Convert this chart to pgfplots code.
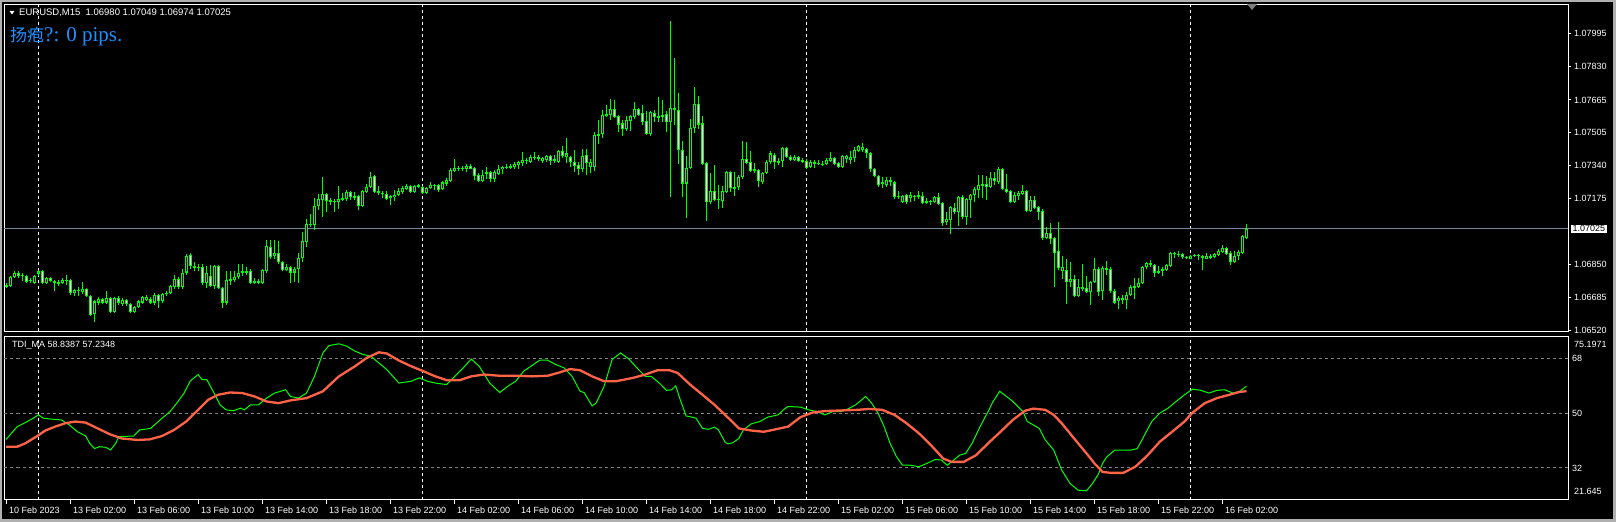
\documentclass[border=0pt]{standalone}
\usepackage{pgfplots}
\pgfplotsset{compat=1.18}
\usepackage{pgfplotstable}
\usepackage{fontspec}
\setmainfont{Liberation Sans}
\newfontfamily\cjk{Noto Sans CJK SC}
\newfontfamily\serifl{Liberation Serif}
\definecolor{mtgray}{RGB}{176,176,176}
\definecolor{pline}{RGB}{119,136,153}
\definecolor{mtblue}{RGB}{30,144,255}
\definecolor{mared}{RGB}{255,99,71}
\definecolor{dgray}{RGB}{128,128,128}
\definecolor{mtgreen}{RGB}{0,255,0}
\newcommand\mt{\fontsize{9pt}{10pt}\selectfont}

\pgfplotstableread{
i o h l c
-8 1.06738 1.06758 1.06733 1.06748
-7 1.06743 1.06793 1.06738 1.06788
-6 1.06788 1.06813 1.06783 1.06808
-5 1.06808 1.06813 1.06783 1.06793
-4 1.06798 1.06808 1.06768 1.06793
-3 1.06793 1.06798 1.06758 1.06763
-2 1.06768 1.06783 1.06758 1.06773
-1 1.06758 1.06798 1.06753 1.06793
0 1.06803 1.06818 1.06793 1.06813
1 1.06813 1.06818 1.06753 1.06758
2 1.06758 1.06788 1.06753 1.06783
3 1.06783 1.06788 1.06763 1.06768
4 1.06768 1.06773 1.06714 1.06758
5 1.06753 1.06773 1.06743 1.06763
6 1.06758 1.06783 1.06753 1.06773
7 1.06773 1.06798 1.06748 1.06768
8 1.06773 1.06778 1.06694 1.06704
9 1.06704 1.06724 1.06689 1.06719
10 1.06719 1.06738 1.06689 1.06714
11 1.06709 1.06763 1.06699 1.06728
12 1.06728 1.06733 1.06684 1.06689
13 1.06689 1.06694 1.06590 1.06595
14 1.06600 1.06669 1.06560 1.06664
15 1.06659 1.06684 1.06649 1.06674
16 1.06674 1.06679 1.06654 1.06659
17 1.06659 1.06714 1.06654 1.06679
18 1.06679 1.06684 1.06605 1.06610
19 1.06610 1.06684 1.06605 1.06679
20 1.06679 1.06689 1.06649 1.06659
21 1.06654 1.06679 1.06644 1.06669
22 1.06669 1.06674 1.06644 1.06654
23 1.06654 1.06659 1.06605 1.06610
24 1.06610 1.06644 1.06605 1.06639
25 1.06639 1.06669 1.06634 1.06664
26 1.06659 1.06689 1.06654 1.06684
27 1.06669 1.06694 1.06664 1.06684
28 1.06674 1.06684 1.06654 1.06659
29 1.06659 1.06704 1.06649 1.06694
30 1.06694 1.06699 1.06634 1.06664
31 1.06664 1.06704 1.06659 1.06699
32 1.06699 1.06714 1.06689 1.06704
33 1.06704 1.06748 1.06699 1.06743
34 1.06738 1.06798 1.06728 1.06778
35 1.06778 1.06788 1.06728 1.06738
36 1.06738 1.06823 1.06724 1.06808
37 1.06808 1.06902 1.06798 1.06892
38 1.06897 1.06907 1.06823 1.06838
39 1.06828 1.06858 1.06813 1.06838
40 1.06833 1.06848 1.06813 1.06828
41 1.06833 1.06848 1.06748 1.06758
42 1.06758 1.06838 1.06733 1.06808
43 1.06793 1.06843 1.06738 1.06743
44 1.06743 1.06843 1.06724 1.06838
45 1.06838 1.06843 1.06724 1.06733
46 1.06733 1.06738 1.06630 1.06659
47 1.06659 1.06813 1.06649 1.06773
48 1.06768 1.06813 1.06748 1.06778
49 1.06773 1.06813 1.06763 1.06788
50 1.06788 1.06848 1.06778 1.06808
51 1.06808 1.06848 1.06793 1.06813
52 1.06813 1.06833 1.06798 1.06808
53 1.06813 1.06823 1.06753 1.06758
54 1.06758 1.06783 1.06753 1.06768
55 1.06768 1.06778 1.06753 1.06758
56 1.06758 1.06823 1.06753 1.06818
57 1.06813 1.06967 1.06808 1.06942
58 1.06937 1.06967 1.06873 1.06887
59 1.06892 1.06967 1.06873 1.06907
60 1.06907 1.06962 1.06848 1.06858
61 1.06858 1.06863 1.06813 1.06818
62 1.06818 1.06848 1.06813 1.06833
63 1.06833 1.06838 1.06758 1.06808
64 1.06808 1.06833 1.06763 1.06823
65 1.06823 1.06907 1.06758 1.06882
66 1.06882 1.07007 1.06858 1.06962
67 1.06957 1.07076 1.06937 1.07051
68 1.07051 1.07101 1.07036 1.07046
69 1.07046 1.07176 1.07017 1.07136
70 1.07136 1.07200 1.07116 1.07171
71 1.07166 1.07280 1.07086 1.07200
72 1.07200 1.07205 1.07106 1.07161
73 1.07156 1.07176 1.07141 1.07166
74 1.07161 1.07171 1.07106 1.07156
75 1.07156 1.07240 1.07121 1.07171
76 1.07166 1.07205 1.07161 1.07176
77 1.07171 1.07220 1.07161 1.07210
78 1.07210 1.07215 1.07166 1.07181
79 1.07186 1.07210 1.07166 1.07176
80 1.07186 1.07191 1.07116 1.07136
81 1.07136 1.07220 1.07131 1.07215
82 1.07210 1.07250 1.07205 1.07235
83 1.07235 1.07305 1.07230 1.07280
84 1.07285 1.07290 1.07205 1.07210
85 1.07215 1.07240 1.07195 1.07205
86 1.07205 1.07215 1.07176 1.07200
87 1.07200 1.07215 1.07166 1.07171
88 1.07176 1.07195 1.07141 1.07186
89 1.07181 1.07220 1.07161 1.07195
90 1.07195 1.07230 1.07186 1.07215
91 1.07210 1.07240 1.07200 1.07230
92 1.07225 1.07250 1.07220 1.07240
93 1.07240 1.07245 1.07205 1.07210
94 1.07210 1.07245 1.07205 1.07240
95 1.07245 1.07250 1.07230 1.07235
96 1.07235 1.07240 1.07200 1.07205
97 1.07205 1.07235 1.07200 1.07230
98 1.07230 1.07255 1.07225 1.07245
99 1.07245 1.07250 1.07220 1.07240
100 1.07245 1.07250 1.07210 1.07220
101 1.07225 1.07260 1.07220 1.07255
102 1.07250 1.07275 1.07240 1.07265
103 1.07260 1.07329 1.07255 1.07315
104 1.07310 1.07374 1.07305 1.07329
105 1.07320 1.07339 1.07310 1.07329
106 1.07329 1.07339 1.07310 1.07324
107 1.07324 1.07349 1.07305 1.07339
108 1.07339 1.07349 1.07320 1.07324
109 1.07329 1.07334 1.07265 1.07285
110 1.07290 1.07300 1.07255 1.07260
111 1.07260 1.07315 1.07255 1.07290
112 1.07295 1.07334 1.07270 1.07305
113 1.07305 1.07310 1.07255 1.07270
114 1.07270 1.07315 1.07255 1.07305
115 1.07295 1.07344 1.07290 1.07324
116 1.07320 1.07339 1.07295 1.07334
117 1.07329 1.07349 1.07324 1.07334
118 1.07329 1.07349 1.07324 1.07339
119 1.07334 1.07359 1.07324 1.07349
120 1.07344 1.07364 1.07324 1.07359
121 1.07354 1.07404 1.07339 1.07369
122 1.07364 1.07379 1.07349 1.07369
123 1.07359 1.07394 1.07354 1.07384
124 1.07384 1.07404 1.07369 1.07379
125 1.07384 1.07394 1.07364 1.07374
126 1.07364 1.07384 1.07354 1.07379
127 1.07369 1.07394 1.07359 1.07389
128 1.07389 1.07394 1.07344 1.07364
129 1.07364 1.07394 1.07354 1.07374
130 1.07359 1.07414 1.07354 1.07409
131 1.07409 1.07434 1.07379 1.07389
132 1.07384 1.07474 1.07354 1.07399
133 1.07384 1.07389 1.07334 1.07359
134 1.07359 1.07414 1.07305 1.07339
135 1.07344 1.07359 1.07290 1.07324
136 1.07320 1.07419 1.07305 1.07389
137 1.07394 1.07419 1.07290 1.07354
138 1.07334 1.07374 1.07300 1.07359
139 1.07334 1.07508 1.07310 1.07493
140 1.07488 1.07563 1.07444 1.07498
141 1.07498 1.07613 1.07478 1.07588
142 1.07583 1.07642 1.07578 1.07593
143 1.07588 1.07672 1.07563 1.07618
144 1.07618 1.07667 1.07573 1.07578
145 1.07583 1.07588 1.07508 1.07543
146 1.07548 1.07563 1.07488 1.07523
147 1.07523 1.07583 1.07513 1.07563
148 1.07558 1.07588 1.07513 1.07583
149 1.07578 1.07657 1.07568 1.07618
150 1.07618 1.07627 1.07583 1.07588
151 1.07598 1.07642 1.07543 1.07553
152 1.07558 1.07608 1.07493 1.07498
153 1.07498 1.07608 1.07488 1.07603
154 1.07598 1.07613 1.07553 1.07578
155 1.07583 1.07682 1.07553 1.07573
156 1.07578 1.07667 1.07553 1.07588
157 1.07593 1.07608 1.07508 1.07553
158 1.07553 1.08055 1.07181 1.07623
159 1.07623 1.07871 1.07543 1.07613
160 1.07613 1.07697 1.07349 1.07414
161 1.07414 1.07459 1.07181 1.07250
162 1.07250 1.07389 1.07081 1.07329
163 1.07329 1.07568 1.07320 1.07528
164 1.07528 1.07727 1.07503 1.07647
165 1.07647 1.07687 1.07523 1.07543
166 1.07548 1.07583 1.07344 1.07349
167 1.07354 1.07359 1.07066 1.07156
168 1.07156 1.07300 1.07146 1.07215
169 1.07215 1.07344 1.07161 1.07166
170 1.07166 1.07245 1.07121 1.07171
171 1.07161 1.07240 1.07126 1.07215
172 1.07210 1.07310 1.07205 1.07305
173 1.07305 1.07310 1.07210 1.07230
174 1.07225 1.07305 1.07190 1.07235
175 1.07235 1.07290 1.07220 1.07280
176 1.07280 1.07459 1.07270 1.07374
177 1.07374 1.07454 1.07349 1.07354
178 1.07359 1.07409 1.07305 1.07310
179 1.07310 1.07354 1.07300 1.07320
180 1.07315 1.07324 1.07235 1.07260
181 1.07255 1.07305 1.07250 1.07300
182 1.07300 1.07369 1.07295 1.07359
183 1.07359 1.07409 1.07349 1.07399
184 1.07394 1.07399 1.07324 1.07359
185 1.07354 1.07379 1.07344 1.07364
186 1.07364 1.07429 1.07334 1.07424
187 1.07424 1.07429 1.07379 1.07384
188 1.07384 1.07394 1.07364 1.07369
189 1.07369 1.07394 1.07364 1.07384
190 1.07384 1.07389 1.07359 1.07364
191 1.07369 1.07379 1.07354 1.07359
192 1.07364 1.07374 1.07320 1.07329
193 1.07334 1.07369 1.07329 1.07359
194 1.07349 1.07369 1.07329 1.07359
195 1.07354 1.07369 1.07344 1.07349
196 1.07349 1.07364 1.07339 1.07344
197 1.07349 1.07379 1.07344 1.07369
198 1.07364 1.07404 1.07359 1.07379
199 1.07379 1.07384 1.07344 1.07349
200 1.07354 1.07359 1.07329 1.07334
201 1.07334 1.07394 1.07329 1.07389
202 1.07374 1.07394 1.07354 1.07389
203 1.07369 1.07409 1.07349 1.07384
204 1.07379 1.07429 1.07359 1.07414
205 1.07409 1.07439 1.07404 1.07434
206 1.07414 1.07449 1.07404 1.07429
207 1.07419 1.07424 1.07379 1.07399
208 1.07399 1.07404 1.07305 1.07320
209 1.07324 1.07329 1.07280 1.07285
210 1.07285 1.07290 1.07235 1.07245
211 1.07250 1.07280 1.07230 1.07255
212 1.07245 1.07280 1.07235 1.07265
213 1.07255 1.07280 1.07240 1.07265
214 1.07255 1.07260 1.07171 1.07181
215 1.07181 1.07215 1.07171 1.07186
216 1.07156 1.07195 1.07151 1.07186
217 1.07195 1.07200 1.07146 1.07156
218 1.07176 1.07210 1.07156 1.07195
219 1.07186 1.07195 1.07161 1.07181
220 1.07181 1.07215 1.07171 1.07191
221 1.07186 1.07210 1.07146 1.07151
222 1.07151 1.07176 1.07146 1.07161
223 1.07161 1.07166 1.07141 1.07156
224 1.07156 1.07186 1.07151 1.07181
225 1.07181 1.07205 1.07141 1.07146
226 1.07151 1.07156 1.07041 1.07056
227 1.07061 1.07106 1.07046 1.07076
228 1.07071 1.07136 1.06997 1.07131
229 1.07126 1.07151 1.07101 1.07106
230 1.07106 1.07186 1.07041 1.07181
231 1.07181 1.07191 1.07076 1.07086
232 1.07086 1.07176 1.07046 1.07171
233 1.07166 1.07200 1.07081 1.07195
234 1.07195 1.07235 1.07156 1.07225
235 1.07220 1.07290 1.07176 1.07245
236 1.07240 1.07290 1.07176 1.07250
237 1.07250 1.07285 1.07166 1.07235
238 1.07235 1.07305 1.07230 1.07275
239 1.07275 1.07305 1.07245 1.07260
240 1.07255 1.07334 1.07250 1.07324
241 1.07324 1.07329 1.07220 1.07225
242 1.07225 1.07295 1.07205 1.07210
243 1.07215 1.07220 1.07151 1.07156
244 1.07156 1.07210 1.07151 1.07191
245 1.07186 1.07215 1.07166 1.07205
246 1.07200 1.07245 1.07195 1.07215
247 1.07215 1.07220 1.07106 1.07111
248 1.07111 1.07186 1.07106 1.07166
249 1.07166 1.07186 1.07121 1.07126
250 1.07131 1.07136 1.07071 1.07106
251 1.07111 1.07121 1.06967 1.06977
252 1.06977 1.07032 1.06972 1.07002
253 1.07002 1.07056 1.06952 1.06972
254 1.06977 1.06982 1.06738 1.06907
255 1.06917 1.07061 1.06818 1.06828
256 1.06813 1.06892 1.06778 1.06833
257 1.06818 1.06873 1.06654 1.06763
258 1.06763 1.06858 1.06738 1.06778
259 1.06778 1.06798 1.06684 1.06689
260 1.06689 1.06778 1.06684 1.06738
261 1.06728 1.06848 1.06714 1.06738
262 1.06733 1.06793 1.06704 1.06709
263 1.06709 1.06768 1.06649 1.06763
264 1.06763 1.06882 1.06758 1.06823
265 1.06823 1.06833 1.06689 1.06709
266 1.06714 1.06838 1.06669 1.06828
267 1.06828 1.06863 1.06798 1.06818
268 1.06823 1.06833 1.06704 1.06714
269 1.06714 1.06728 1.06654 1.06659
270 1.06664 1.06689 1.06625 1.06679
271 1.06669 1.06694 1.06654 1.06679
272 1.06669 1.06709 1.06625 1.06694
273 1.06694 1.06748 1.06689 1.06738
274 1.06733 1.06783 1.06674 1.06743
275 1.06738 1.06783 1.06733 1.06758
276 1.06758 1.06838 1.06753 1.06833
277 1.06833 1.06858 1.06823 1.06853
278 1.06853 1.06868 1.06833 1.06843
279 1.06843 1.06848 1.06788 1.06808
280 1.06808 1.06838 1.06803 1.06813
281 1.06813 1.06833 1.06793 1.06823
282 1.06818 1.06848 1.06813 1.06843
283 1.06838 1.06912 1.06833 1.06907
284 1.06907 1.06912 1.06882 1.06902
285 1.06902 1.06917 1.06887 1.06897
286 1.06902 1.06907 1.06873 1.06887
287 1.06887 1.06892 1.06877 1.06882
288 1.06877 1.06897 1.06873 1.06892
289 1.06892 1.06902 1.06887 1.06897
290 1.06897 1.06902 1.06868 1.06892
291 1.06892 1.06897 1.06818 1.06882
292 1.06877 1.06907 1.06873 1.06892
293 1.06882 1.06902 1.06873 1.06892
294 1.06887 1.06907 1.06882 1.06902
295 1.06897 1.06927 1.06892 1.06917
296 1.06912 1.06947 1.06907 1.06932
297 1.06932 1.06937 1.06897 1.06902
298 1.06907 1.06917 1.06843 1.06858
299 1.06858 1.06917 1.06853 1.06892
300 1.06892 1.06922 1.06868 1.06912
301 1.06907 1.06992 1.06902 1.06987
302 1.06980 1.07049 1.06974 1.07025
}\candles

% price axis is drawn in points: (price - 1) x 100000
\pgfplotsset{candle/.style 2 args={draw=none, mark=none, mark size=0pt, error bars/.cd, y dir=plus, y explicit, error mark=none, error bar style={draw=#1, line width=#2, solid}}}

\begin{document}
\begin{tikzpicture}
\fill[mtgray] (0pt,0pt) rectangle (1616pt,522pt);
\fill[black] (2pt,3pt) rectangle (1613pt,519.5pt);

\begin{axis}[
  at={(4.5pt,190.5pt)}, anchor=south west, scale only axis,
  width=1564pt, height=327pt,
  xmin=-8.5, xmax=382.5, ymin=6515, ymax=8139,
  axis line style={white, line width=1pt},
  xtick=\empty,
  ytick={6520,6685,6850,7175,7340,7505,7665,7830,7995},
  yticklabels={1.06520,1.06685,1.06850,1.07175,1.07340,1.07505,1.07665,1.07830,1.07995},
  ytick pos=right, yticklabel pos=right, ytick align=outside, major tick length=3pt,
  ytick style={white, line width=1pt},
  yticklabel style={font=\mt, text=white, anchor=west, xshift=-1pt},
  clip mode=individual,
]
\draw[white, line width=1pt, dash pattern=on 3pt off 3pt] (axis cs:0,6515) -- (axis cs:0,8139);
\draw[white, line width=1pt, dash pattern=on 3pt off 3pt] (axis cs:96,6515) -- (axis cs:96,8139);
\draw[white, line width=1pt, dash pattern=on 3pt off 3pt] (axis cs:192,6515) -- (axis cs:192,8139);
\draw[white, line width=1pt, dash pattern=on 3pt off 3pt] (axis cs:288,6515) -- (axis cs:288,8139);
\draw[pline, line width=1pt] (axis cs:-8.5,7025) -- (axis cs:382.5,7025);
% wicks
\addplot[candle={mtgreen}{1pt}]
  table[x=i, y expr={(\thisrow{l}-1)*100000}, y error plus expr={(\thisrow{h}-\thisrow{l})*100000}] {\candles};
% bodies
\addplot[candle={mtgreen}{3pt}]
  table[x=i, y expr={(min(\thisrow{o},\thisrow{c})-1)*100000}, y error plus expr={max(abs(\thisrow{c}-\thisrow{o})*100000,5)}] {\candles};
% bear interiors (white)
\addplot[candle={white}{1pt}]
  table[x=i, y expr={(\thisrow{c}-1)*100000+5}, y error plus expr={max((\thisrow{o}-\thisrow{c})*100000-10,0)}] {\candles};
% bull interiors (black)
\addplot[candle={black}{1pt}]
  table[x=i, y expr={(\thisrow{o}-1)*100000+5}, y error plus expr={max((\thisrow{c}-\thisrow{o})*100000-10,0)}] {\candles};
\node[fill=white, text=black, font=\mt, inner xsep=2pt, inner ysep=1pt, anchor=west, xshift=2pt] at (axis cs:382.5,7025) {1.07025};
\end{axis}

\begin{axis}[
  at={(4.5pt,22.5pt)}, anchor=south west, scale only axis,
  width=1564pt, height=163pt,
  xmin=-8.5, xmax=382.5, ymin=21.645, ymax=75.1971,
  axis line style={white, line width=1pt},
  xtick={-8,8,24,40,56,72,88,104,120,136,152,168,184,200,216,232,248,264,280,296},
  xticklabels={10 Feb 2023,13 Feb 02:00,13 Feb 06:00,13 Feb 10:00,13 Feb 14:00,13 Feb 18:00,13 Feb 22:00,14 Feb 02:00,14 Feb 06:00,14 Feb 10:00,14 Feb 14:00,14 Feb 18:00,14 Feb 22:00,15 Feb 02:00,15 Feb 06:00,15 Feb 10:00,15 Feb 14:00,15 Feb 18:00,15 Feb 22:00,16 Feb 02:00},
  xtick pos=bottom, xtick align=outside, major tick length=4pt,
  xtick style={white, line width=1pt},
  xticklabel style={font=\mt, text=white, anchor=north west, xshift=-1pt},
  ytick={32,50,68}, yticklabels={32,50,68},
  ytick pos=right, yticklabel pos=right,
  ytick style={draw=none},
  yticklabel style={font=\mt, text=white, anchor=west},
  clip mode=individual,
]
\draw[dgray, line width=1pt, dash pattern=on 3pt off 3pt] (axis cs:-8.5,68) -- (axis cs:382.5,68);
\draw[dgray, line width=1pt, dash pattern=on 3pt off 3pt] (axis cs:-8.5,50) -- (axis cs:382.5,50);
\draw[dgray, line width=1pt, dash pattern=on 3pt off 3pt] (axis cs:-8.5,32) -- (axis cs:382.5,32);
\draw[white, line width=1pt, dash pattern=on 3pt off 3pt] (axis cs:0,21.645) -- (axis cs:0,75.1971);
\draw[white, line width=1pt, dash pattern=on 3pt off 3pt] (axis cs:96,21.645) -- (axis cs:96,75.1971);
\draw[white, line width=1pt, dash pattern=on 3pt off 3pt] (axis cs:192,21.645) -- (axis cs:192,75.1971);
\draw[white, line width=1pt, dash pattern=on 3pt off 3pt] (axis cs:288,21.645) -- (axis cs:288,75.1971);
\addplot[mtgreen, line width=1pt, mark=none] coordinates {
(-8.1,41.4) (-5.3,45.6) (-3.3,46.9) (-1.3,48.35) (0,49.45) (1.2,48.35) (3.7,48.0) (5.7,47.8) (7.7,46.15) (9.7,43.95) (11.8,42.5) (12.8,40.1) (14.0,38.4) (15.3,39.0) (16.8,38.8) (18.0,37.9) (19.3,40.1) (20.1,42.3) (23.8,42.5) (25.3,44.5) (28.0,45.0) (30.9,48.35) (32.9,50.55) (34.9,53.85) (36.4,56.6) (37.9,60.5) (39.9,62.7) (40.9,61.0) (42.1,61.0) (43.9,56.6) (45.4,52.75) (46.9,51.1) (48.7,50.8) (50.5,51.65) (51.5,51.1) (53.0,52.75) (55.0,52.75) (57.0,54.95) (59.0,56.6) (61.8,57.7) (63.0,55.5) (65.0,54.95) (67.0,56.6) (69.0,62.1) (71.1,69.8) (72.6,72.2) (75.1,72.8) (77.1,72.0) (79.1,70.4) (81.1,69.3) (83.1,68.7) (85.1,66.5) (87.1,64.3) (90.1,59.9) (93.2,60.5) (95.2,61.6) (97.2,60.5) (99.2,59.9) (102.0,59.4) (103.7,61.6) (106.2,64.9) (108.2,67.8) (110.2,65.4) (112.8,59.9) (115.3,56.8) (117.3,58.8) (119.3,60.5) (121.3,63.8) (125.3,67.4) (127.3,67.4) (129.3,66.0) (131.4,64.9) (133.4,62.1) (135.4,57.2) (136.4,56.8) (138.4,52.4) (139.4,53.3) (141.4,58.8) (143.4,67.6) (145.5,69.8) (147.6,67.8) (149.6,64.9) (151.7,62.1) (153.2,62.1) (155.2,59.9) (157.0,57.5) (158.3,57.7) (159.3,59.0) (160.3,54.95) (161.9,49.1) (163.4,48.7) (164.4,48.35) (166.0,45.0) (167.5,44.7) (169.0,45.4) (170.0,44.5) (171.6,40.6) (172.3,39.9) (173.6,40.3) (175.1,41.7) (176.2,44.5) (178.2,46.5) (180.3,47.25) (182.3,48.7) (184.9,49.45) (186.4,51.3) (187.4,52.2) (190.5,52.0) (192.5,51.1) (194.6,50.55) (196.6,49.45) (198.6,50.55) (200.7,50.55) (202.2,51.3) (204.3,52.75) (206.8,55.5) (208.3,53.3) (209.9,50.0) (211.4,45.6) (212.9,40.1) (214.5,35.7) (216.0,32.9) (218.0,32.9) (220.1,32.4) (222.1,33.5) (224.2,34.8) (225.7,34.6) (227.2,32.9) (228.8,34.6) (230.3,36.2) (231.8,36.8) (233.4,40.1) (235.4,45.6) (237.4,50.55) (238.5,53.5) (240.3,57.2) (242.0,55.5) (243.6,53.85) (246.1,50.55) (247.2,47.25) (248.7,46.15) (250.2,45.0) (251.7,41.2) (253.8,37.9) (255.8,31.3) (257.9,26.9) (259.9,24.7) (262.0,24.5) (263.5,26.9) (265.0,30.0) (266.0,33.5) (267.1,35.7) (269.1,37.9) (271.2,37.9) (273.2,37.9) (274.7,38.4) (276.3,42.3) (278.3,47.25) (280.3,50.0) (282.4,51.65) (284.4,53.85) (286.5,56.05) (288.5,57.9) (290.6,57.5) (292.6,56.6) (294.6,57.5) (296.5,57.7) (298.7,56.6) (300.3,57.2) (302,58.84)
};
\addplot[mared, line width=2.3pt, mark=none] coordinates {
(-8.1,39.0) (-5.3,39.0) (-3.3,40.1) (-0.3,42.5) (1.7,44.3) (4.2,45.6) (6.7,46.7) (9.2,47.25) (11.8,46.9) (14.8,45.0) (17.8,43.1) (20.8,41.7) (24.8,41.2) (27.8,41.4) (30.9,42.5) (33.9,44.5) (36.9,47.25) (39.9,51.1) (42.4,54.4) (44.9,56.05) (47.9,56.8) (51.0,56.6) (54.0,55.5) (57.0,53.85) (60.0,53.3) (63.0,54.2) (67.0,54.95) (71.1,57.2) (75.1,62.1) (79.1,65.4) (82.1,68.2) (85.1,70.0) (87.1,69.6) (90.1,67.3) (93.2,65.4) (96.2,63.8) (99.2,62.1) (102.2,60.8) (105.2,60.8) (108.2,62.1) (111.3,62.7) (115.3,62.3) (119.3,62.3) (123.3,62.1) (127.3,62.3) (130.3,63.4) (132.9,64.5) (135.4,64.1) (138.4,62.1) (141.4,60.5) (144.4,60.5) (148.6,61.6) (151.7,62.7) (154.7,64.1) (157.8,64.1) (159.8,63.2) (162.9,59.4) (166.0,56.05) (169.0,52.75) (172.1,48.9) (175.1,45.0) (178.2,44.3) (181.3,43.9) (184.3,44.7) (187.4,45.6) (190.5,48.7) (193.5,50.2) (196.6,50.7) (200.7,50.9) (204.8,51.1) (207.8,51.4) (210.9,51.1) (214.0,49.45) (217.0,46.7) (220.1,43.4) (223.1,39.5) (226.2,35.1) (228.3,34.0) (231.3,34.0) (234.4,36.2) (237.4,40.1) (240.5,43.9) (243.6,47.8) (246.6,50.8) (248.7,51.5) (251.7,51.1) (253.8,49.45) (255.8,46.7) (258.9,41.7) (262.0,36.8) (264.0,33.5) (266.0,30.7) (268.1,30.4) (271.2,30.4) (274.2,32.4) (277.3,36.2) (280.3,40.6) (283.4,43.9) (286.5,47.25) (288.5,50.2) (291.6,53.3) (294.6,54.95) (297.7,56.05) (300.3,57.0) (302,57.23)
};
\node[font=\mt, text=white, anchor=north west, xshift=2pt, yshift=-1pt] at (rel axis cs:1,1) {75.1971};
\node[font=\mt, text=white, anchor=south west, xshift=2pt, yshift=1pt] at (rel axis cs:1,0) {21.645};
\node[font=\mt, text=white, anchor=west, xshift=4pt, yshift=-9pt] at (rel axis cs:0,1) {TDI\_MA 58.8387 57.2348};
\end{axis}

\fill[white] (9.5pt,511pt) -- (14.5pt,511pt) -- (12pt,507.5pt) -- cycle;
\node[font=\fontsize{9.5pt}{11pt}\selectfont, text=white, anchor=west, inner sep=0pt] at (19pt,509pt) {EURUSD,M15\ \ 1.06980 1.07049 1.06974 1.07025};
\node[text=mtblue, anchor=west, inner sep=0pt] at (10pt,485pt) {{\cjk\fontsize{17pt}{20pt}\selectfont 扬疱}{\serifl\fontsize{21pt}{24pt}\selectfont ?: 0 pips.}};
\fill[dgray] (1247pt,518pt) -- (1257pt,518pt) -- (1252pt,512pt) -- cycle;
\pgfresetboundingbox
\path (0pt,0pt) rectangle (1616pt,522pt);
\end{tikzpicture}
\end{document}
